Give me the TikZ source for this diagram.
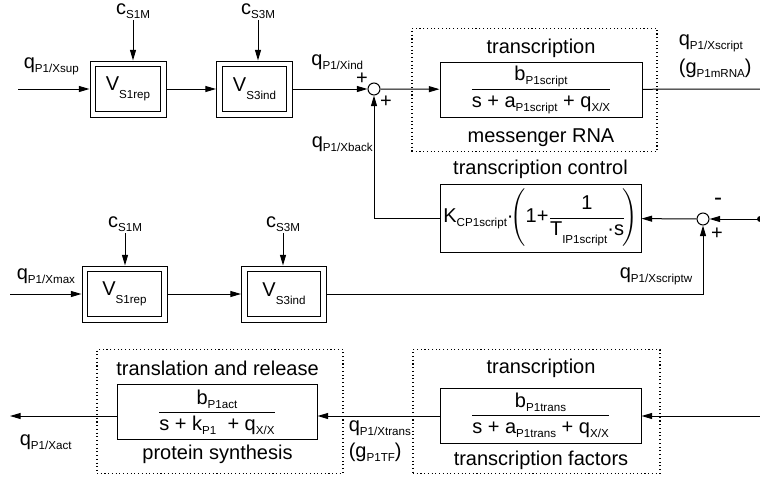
\documentclass[tikz,border=0pt]{standalone}
\usepackage{amsmath}
\usepackage{fontspec}
\setmainfont{Liberation Sans}
\usepackage{tikz}
\usetikzlibrary{positioning}
\usetikzlibrary{arrows.meta}

\newcommand{\sbs}[2][3pt]{\raisebox{-#1}{\fontsize{8.7}{9}\selectfont #2}}

\tikzset{
	sig/.style={-{Triangle[length=8pt,width=4.5pt]}},
	vblock/.style={draw, minimum height=42pt, inner sep=0pt,
		path picture={\draw ([shift={(4.2pt,-3.9pt)}]path picture bounding box.north west) rectangle ([shift={(-4.2pt,3.9pt)}]path picture bounding box.south east);}},
	tfblock/.style={draw, minimum height=41.25pt, inner sep=0pt},
	group/.style={draw, dotted, line width=0.8pt, minimum height=92.5pt, inner sep=0pt},
	sumpt/.style={draw, circle, minimum size=9pt, inner sep=0pt},
	lbl/.style={inner sep=1pt}
}

\begin{document}
\begin{tikzpicture}[x=0.75pt, y=-0.75pt, line width=0.75pt, font=\fontsize{15}{18}\selectfont]
			\useasboundingbox (0,0) rectangle (760,479);
			% dotted groups
			\node[group, minimum width=183.75pt] (grpmrna) at (534.5,90) {};
			\node[group, minimum width=184.5pt] (grpprot) at (220,411.5) {};
			\node[group, minimum width=185.25pt] (grptf) at (536.5,411.5) {};
			% upper chain
			\node[vblock, minimum width=57pt] (s1a) at (128,89) {V\sbs[6pt]{S1rep}};
			\node[vblock, minimum width=57pt] (s3a) at (254.5,89) {V\sbs[6pt]{S3ind}};
			\node[lbl, anchor=base] (c1a) at (133,14) {c\sbs{S1M}};
			\node[lbl, anchor=base] (c3a) at (258,14) {c\sbs{S3M}};
			\coordinate (xsup) at (18,89);
			\node[lbl, anchor=base west] (qsup) at (22,68) {q\sbs{P1/Xsup}};
			\node[sumpt] (sum1) at (374,89) {};
			\node[lbl, anchor=base east] (qind) at (365,65) {q\sbs{P1/Xind}};
			\node[lbl] (pa) at (362,79) {+};
			\node[lbl] (pb) at (386,102) {+};
			\node[tfblock, minimum width=151.5pt] (mrna) at (541,89.5) {$\dfrac{\text{b\sbs{P1script}}}{\text{s + a\sbs{P1script} + q\sbs{X/X}}}$};
			\node[lbl, anchor=base] (tmrna) at (541,53) {transcription};
			\node[lbl, anchor=base] (bmrna) at (541,142) {messenger RNA};
			\coordinate (yscript) at (760,89);
			\node[lbl, anchor=base west] (qscript) at (677,45) {q\sbs{P1/Xscript}};
			\node[lbl, anchor=base west] (gmrna) at (677,73) {(g\sbs{P1mRNA})};
			% control loop
			\node[tfblock, minimum width=150.75pt, minimum height=51pt] (ctrl) at (540.5,218) {K\sbs{CP1script}·$\!\Biggl(\text{1+}\dfrac{\text{1}}{\text{T\sbs[6pt]{IP1script}·s}}\!\Biggr)$};
			\node[lbl, anchor=base] (tctrl) at (540.5,174) {transcription control};
			\node[lbl, anchor=base west] (qback) at (310,147) {q\sbs{P1/Xback}};
			\node[sumpt] (sum2) at (703,219) {};
			\coordinate (in2) at (760,219);
			\node[lbl, font=\fontsize{18}{18}\selectfont] (mc) at (718,202) {-};
			\node[lbl] (pc) at (717,234) {+};
			\node[lbl, anchor=base west] (qscrw) at (618,278) {q\sbs{P1/Xscriptw}};
			% middle chain
			\node[vblock, minimum width=63.75pt] (s1b) at (124.5,294) {V\sbs[6pt]{S1rep}};
			\node[vblock, minimum width=63.75pt] (s3b) at (284,294) {V\sbs[6pt]{S3ind}};
			\node[lbl, anchor=base] (c1b) at (125,227) {c\sbs{S1M}};
			\node[lbl, anchor=base] (c3b) at (283,227) {c\sbs{S3M}};
			\coordinate (xmax) at (10,294);
			\node[lbl, anchor=base west] (qmax) at (15,279) {q\sbs{P1/Xmax}};
			% lower chain
			\node[tfblock, minimum width=150pt] (prot) at (217,412) {$\dfrac{\text{b\sbs{P1act}}}{\text{s + k\sbs{P1}\ \ + q\sbs{X/X}}}$};
			\node[lbl, anchor=base] (tprot) at (217.5,375) {translation and release};
			\node[lbl, anchor=base] (bprot) at (217.5,459) {protein synthesis};
			\node[tfblock, minimum width=150.75pt] (tfac) at (540.5,415.5) {$\dfrac{\text{b\sbs{P1trans}}}{\text{s + a\sbs{P1trans} + q\sbs{X/X}}}$};
			\node[lbl, anchor=base] (ttfac) at (541,373) {transcription};
			\node[lbl, anchor=base] (btfac) at (541,465) {transcription factors};
			\coordinate (in3) at (760,416);
			\coordinate (xact) at (10,416);
			\node[lbl, anchor=base west] (qact) at (18,445) {q\sbs{P1/Xact}};
			\node[lbl, anchor=base west] (qtrans) at (347,431) {q\sbs{P1/Xtrans}};
			\node[lbl, anchor=base west] (gtf) at (347,457) {(g\sbs{P1TF})};
			% connectors
			\draw[sig] (xsup) -- (s1a);
			\draw[sig] (s1a) -- (s3a);
			\draw[sig] (s3a) -- (sum1);
			\draw[sig] (c1a.south) -- (c1a.south |- s1a.north);
			\draw[sig] (c3a.south) -- (c3a.south |- s3a.north);
			\draw[sig] (sum1) -- (mrna);
			\draw (mrna) -- (yscript);
			\fill (in2) circle (2.2pt);
			\draw[sig] (in2) -- (sum2);
			\draw[sig] (sum2) -- (ctrl);
			\draw[sig] (ctrl.west) -| (sum1.south);
			\draw[sig] (xmax) -- (s1b);
			\draw[sig] (s1b) -- (s3b);
			\draw[sig] (c1b.south) -- (c1b.south |- s1b.north);
			\draw[sig] (c3b.south) -- (c3b.south |- s3b.north);
			\draw[sig] (s3b.east) -| (sum2.south);
			\draw[sig] (in3) -- (in3 -| tfac.east);
			\draw[sig] (tfac.west |- in3) -- (in3 -| prot.east);
			\draw[sig] (prot.west |- in3) -- (xact);
\end{tikzpicture}
\end{document}
